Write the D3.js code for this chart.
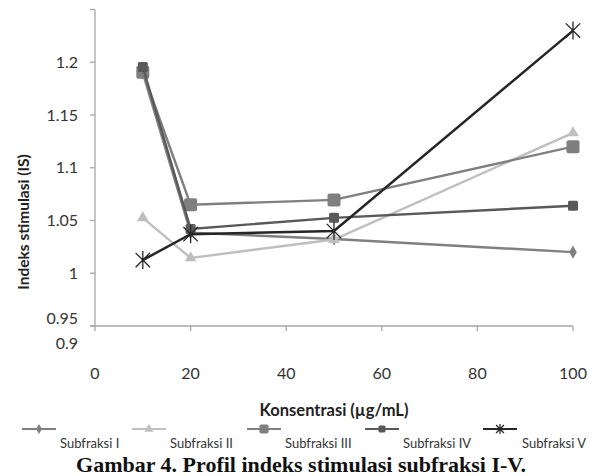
<!DOCTYPE html>
<html><head><meta charset="utf-8">
<script src="https://cdn.jsdelivr.net/npm/d3@7"></script>
<style>body{margin:0;background:#fff}svg{display:block}</style>
</head><body>
<svg id="c" width="600" height="476"></svg>
<script>
const concentrations = [10, 20, 50, 100];
const seriesNames = ["Subfraksi I","Subfraksi II","Subfraksi III","Subfraksi IV","Subfraksi V"];
const subfraksiI   = [1.190, 1.0385, 1.0325, 1.020];
const subfraksiII  = [1.0525, 1.0145, 1.032, 1.133];
const subfraksiIII = [1.1905, 1.065, 1.0695, 1.120];
const subfraksiIV  = [1.1955, 1.042, 1.0525, 1.064];
const subfraksiV   = [1.0125, 1.037, 1.040, 1.230];
const xTicks = [0, 20, 40, 60, 80, 100];
const yTicks = [1.2, 1.15, 1.1, 1.05, 1, 0.95];
const yTickLabels = ["1.2","1.15","1.1","1.05","1","0.95"];
const xTitle = "Konsentrasi (µg/mL)";
const yTitle = "Indeks stimulasi  (IS)";
const caption = "Gambar 4. Profil indeks stimulasi subfraksi I-V.";

const styles = [
  {color:"#808080", marker:"diamond"},
  {color:"#bfbfbf", marker:"triangle"},
  {color:"#7f7f7f", marker:"square"},
  {color:"#595959", marker:"smallsquare"},
  {color:"#262626", marker:"asterisk"}
];
const data = [subfraksiI, subfraksiII, subfraksiIII, subfraksiIV, subfraksiV];

const svg = d3.select("#c");
const font = "Lato, 'Open Sans', sans-serif";
const x = d3.scaleLinear().domain([0,100]).range([95,573]);
const y = d3.scaleLinear().domain([0.95,1.25]).range([326,9.5]);

const axisColor = "#a6a6a6";
svg.append("line").attr("x1",x(0)).attr("x2",x(0)).attr("y1",y(1.25)).attr("y2",y(0.95)).attr("stroke",axisColor).attr("stroke-width",1.3);
svg.append("line").attr("x1",x(0)-5).attr("x2",x(100)).attr("y1",y(0.95)).attr("y2",y(0.95)).attr("stroke",axisColor).attr("stroke-width",1.3);
svg.selectAll(".yt").data([1.25].concat(yTicks)).enter().append("line")
  .attr("x1",x(0)-5).attr("x2",x(0)).attr("y1",d=>y(d)).attr("y2",d=>y(d)).attr("stroke",axisColor).attr("stroke-width",1.3);
svg.selectAll(".xt").data(xTicks).enter().append("line")
  .attr("x1",d=>x(d)).attr("x2",d=>x(d)).attr("y1",y(0.95)).attr("y2",y(0.95)+5).attr("stroke",axisColor).attr("stroke-width",1.3);

svg.selectAll(".yl").data(yTicks).enter().append("text")
  .attr("x",78).attr("y",(d,i)=> i===5 ? y(d)-8 : y(d))
  .attr("dy","0.35em").attr("text-anchor","end")
  .attr("font-family",font).attr("font-size",16).attr("fill","#333")
  .text((d,i)=>yTickLabels[i]);
svg.append("text").attr("x",78).attr("y",343).attr("dy","0.35em").attr("text-anchor","end")
  .attr("font-family",font).attr("font-size",16).attr("fill","#333").text("0.9");
svg.selectAll(".xl").data(xTicks).enter().append("text")
  .attr("x",d=>x(d)).attr("y",373).attr("dy","0.35em").attr("text-anchor","middle")
  .attr("font-family",font).attr("font-size",16).attr("fill","#333").text(d=>d);

svg.append("text").attr("x",334).attr("y",410).attr("dy","0.35em").attr("text-anchor","middle")
  .attr("font-family",font).attr("font-size",16.5).attr("font-weight","bold").attr("fill","#222").text(xTitle);
svg.append("text").attr("transform","translate(24,222) rotate(-90)").attr("dy","0.35em").attr("text-anchor","middle")
  .attr("font-family",font).attr("font-size",15.5).attr("font-weight","bold").attr("fill","#222").text(yTitle);

function drawMarker(g, type, cx, cy, color, scale){
  scale = scale||1;
  if(type==="diamond"){
    g.append("path").attr("d",d3.symbol(d3.symbolDiamond, 50*scale)()).attr("transform",`translate(${cx},${cy})`).attr("fill",color);
  } else if(type==="triangle"){
    g.append("path").attr("d",d3.symbol(d3.symbolTriangle, 60*scale)()).attr("transform",`translate(${cx},${cy})`).attr("fill",color);
  } else if(type==="square"){
    const s=13*Math.sqrt(scale);
    g.append("rect").attr("x",cx-s/2).attr("y",cy-s/2).attr("width",s).attr("height",s).attr("rx",2).attr("fill",color);
  } else if(type==="smallsquare"){
    const s=10*Math.sqrt(scale);
    g.append("rect").attr("x",cx-s/2).attr("y",cy-s/2).attr("width",s).attr("height",s).attr("rx",1.5).attr("fill",color);
  } else if(type==="asterisk"){
    const r=9*Math.sqrt(scale);
    const p = d3.path();
    p.moveTo(cx-r*0.8,cy-r*0.8); p.lineTo(cx+r*0.8,cy+r*0.8);
    p.moveTo(cx-r*0.8,cy+r*0.8); p.lineTo(cx+r*0.8,cy-r*0.8);
    p.moveTo(cx,cy-r); p.lineTo(cx,cy+r);
    g.append("path").attr("d",p.toString()).attr("stroke",color).attr("stroke-width",1.3).attr("fill","none");
  }
}

const line = d3.line().x((d,i)=>x(concentrations[i])).y(d=>y(d));
[0,1,2,3,4].forEach(k=>{
  const g = svg.append("g");
  g.append("path").datum(data[k]).attr("d",line).attr("fill","none")
    .attr("stroke",styles[k].color).attr("stroke-width",k===4?2.5:2.4);
  data[k].forEach((v,i)=>drawMarker(g, styles[k].marker, x(concentrations[i]), y(v), styles[k].color));
});

const legX = [22, 132, 247, 365, 483];
const legLabelX = [60, 170, 285, 403, 522];
const legScale = [0.6, 0.6, 0.5, 0.5, 0.3];
seriesNames.forEach((n,k)=>{
  const g = svg.append("g");
  g.append("line").attr("x1",legX[k]).attr("x2",legX[k]+34).attr("y1",429).attr("y2",429)
    .attr("stroke",styles[k].color).attr("stroke-width",k===4?2:1.8);
  drawMarker(g, styles[k].marker, legX[k]+17, 429, styles[k].color, legScale[k]);
  g.append("text").attr("x",legLabelX[k]).attr("y",443).attr("dy","0.35em")
    .attr("font-family",font).attr("font-size",13).attr("fill","#333").text(n);
});

svg.append("text").attr("x",301).attr("y",472).attr("text-anchor","middle")
  .attr("font-family","'Liberation Serif','Times New Roman',serif").attr("font-size",22).attr("font-weight","bold").attr("fill","#111").text(caption);
</script>
</body></html>
